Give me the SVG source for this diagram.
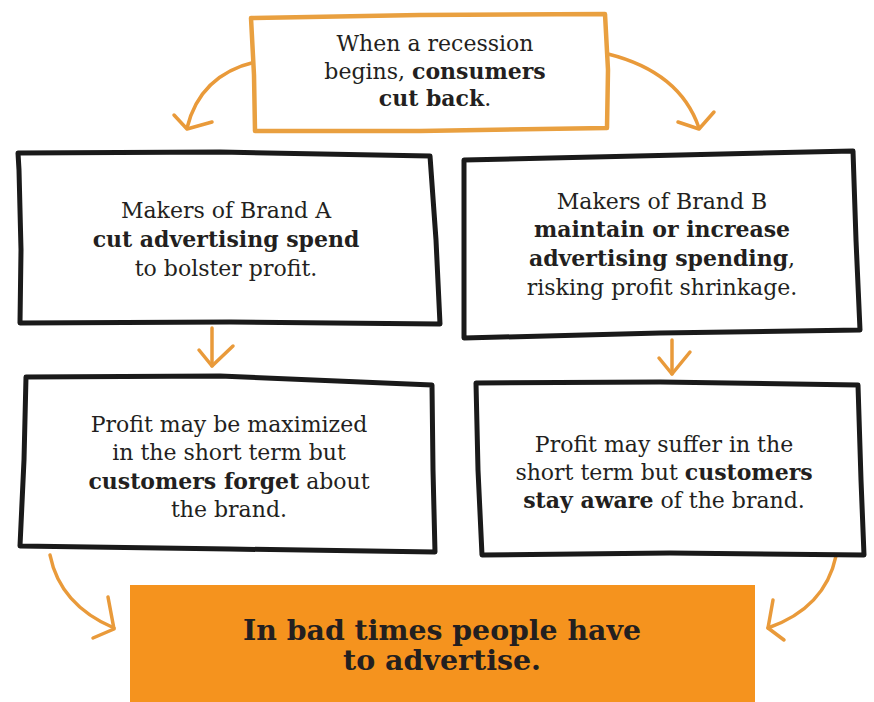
<svg xmlns="http://www.w3.org/2000/svg" width="874" height="702" viewBox="0 0 874 702">
<style>
.t{font-family:"DejaVu Serif","Liberation Serif",serif;font-size:22px;fill:#231f20;text-anchor:middle}
.b{font-weight:bold}
.box{fill:#ffffff;stroke:#1a1a1a;stroke-width:5;stroke-linejoin:round;stroke-linecap:round}
.obox{fill:#ffffff;stroke:#e9a040;stroke-width:4.5;stroke-linejoin:round;stroke-linecap:round}
.arr{fill:none;stroke:#e99a3a;stroke-width:3.5;stroke-linecap:round;stroke-linejoin:round}
.big{font-family:"DejaVu Serif","Liberation Serif",serif;font-size:27px;font-weight:bold;fill:#231f20;text-anchor:middle;font-stretch:condensed}
</style>
<rect width="874" height="702" fill="#ffffff"/>
<g id="connectors">
<path class="arr" d="M255,62 Q200,75 187,128"/>
<path class="arr" d="M174,115 L187,129 L212,122"/>
<path class="arr" d="M608,54 Q680,72 699,128"/>
<path class="arr" d="M678,122 L699,129 L714,112"/>
<path class="arr" d="M212,328 L212,366"/>
<path class="arr" d="M199,350 L212,366 L233,346"/>
<path class="arr" d="M672,340 L672,374"/>
<path class="arr" d="M659,358 L672,374 L690,352"/>
<path class="arr" d="M50,555 Q60,605 114,628"/>
<path class="arr" d="M108,597 L114,629 L93,638"/>
<path class="arr" d="M836,556 Q825,608 768,628"/>
<path class="arr" d="M773,600 L768,628 L784,640"/>
</g>
<g id="top">
<path class="obox" d="M251,18 L420,15 L605,14 L608,70 L607,128 L420,131 L255,131 L254,75 Z"/>
<text class="t" x="435" y="51">When a recession</text>
<text class="t" x="435" y="79">begins, <tspan class="b">consumers</tspan></text>
<text class="t" x="435" y="106"><tspan class="b">cut back</tspan>.</text>
</g>
<g id="brandA">
<path class="box" d="M18,153 L220,152 L430,156 L436,240 L440,324 L230,322 L20,323 L21,250 L19,170 Z"/>
<text class="t" x="226" y="218">Makers of Brand A</text>
<text class="t b" x="226" y="247">cut advertising spend</text>
<text class="t" x="226" y="276">to bolster profit.</text>
</g>
<g id="brandB">
<path class="box" d="M464,160 L680,155 L853,151 L856,240 L860,330 L660,333 L464,338 L464,250 Z"/>
<text class="t" x="662" y="209">Makers of Brand B</text>
<text class="t b" x="662" y="237">maintain or increase</text>
<text class="t" x="662" y="266"><tspan class="b">advertising spending</tspan>,</text>
<text class="t" x="662" y="295">risking profit shrinkage.</text>
</g>
<g id="resultA">
<path class="box" d="M26,377 L220,376 L432,385 L433,470 L435,552 L230,549 L20,546 L24,460 Z"/>
<text class="t" x="229" y="432">Profit may be maximized</text>
<text class="t" x="229" y="460">in the short term but</text>
<text class="t" x="229" y="489"><tspan class="b">customers forget</tspan> about</text>
<text class="t" x="229" y="517">the brand.</text>
</g>
<g id="resultB">
<path class="box" d="M476,383 L660,382 L858,385 L861,480 L864,555 L670,553 L482,555 L478,470 Z"/>
<text class="t" x="664" y="452">Profit may suffer in the</text>
<text class="t" x="664" y="480">short term but <tspan class="b">customers</tspan></text>
<text class="t" x="664" y="508"><tspan class="b">stay aware</tspan> of the brand.</text>
</g>
<g id="conclusion">
<rect x="130" y="585" width="625" height="130" fill="#f5931e"/>
<text class="big" x="442" y="640" textLength="398" lengthAdjust="spacingAndGlyphs">In bad times people have</text>
<text class="big" x="442" y="670" textLength="198" lengthAdjust="spacingAndGlyphs">to advertise.</text>
</g>
</svg>
